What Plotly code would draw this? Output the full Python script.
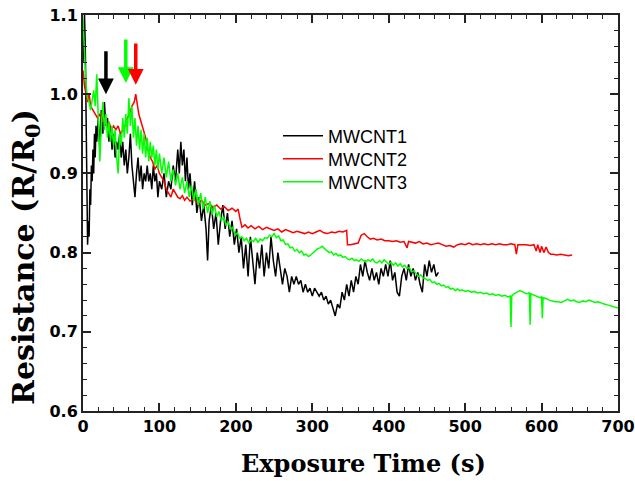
import plotly.graph_objects as go

# ---------------- data ----------------
t1 = [0, 1, 2, 3, 4, 5, 6, 7, 8, 9, 10, 11, 12, 13, 14, 15, 16, 17, 18, 20, 22, 24, 26, 28, 30, 32, 34, 36, 38, 40,
      42, 44, 46, 48, 50, 52, 54, 56, 58, 60, 62, 64, 66, 68, 70, 72, 74, 76, 78, 80, 82, 84, 86, 88, 90, 92, 94, 96, 98,
      100, 103, 106, 109, 112, 115, 118, 121, 124, 126, 128, 130, 132, 134, 136, 138, 140, 143, 146, 149, 152, 155, 158,
      161, 163, 165, 168, 171, 174, 177, 180, 183, 186, 189, 192, 195, 198, 201, 204, 207, 210, 213, 216, 219, 222, 225,
      228, 231, 234, 237, 240, 243, 246, 249, 252, 255, 258, 261, 264, 267, 270, 273, 276, 279, 282, 285, 288, 291, 294,
      297, 300, 303, 306, 309, 312, 315, 318, 321, 324, 327, 330, 333, 336, 339, 342, 345, 348, 351, 354, 357, 360, 363,
      366, 369, 372, 375, 378, 381, 384, 387, 390, 393, 396, 399, 402, 405, 408, 411, 414, 417, 420, 423, 426, 429, 432,
      435, 438, 441, 444, 447, 450, 453, 456, 459, 462, 465]
r1 = [1.04, 1.09, 1.10, 1.06, 0.95, 0.83, 0.81, 0.84, 0.82, 0.88, 0.86, 0.91, 0.89, 0.93, 0.90, 0.95, 0.92, 0.96, 0.94,
      0.97, 0.93, 0.98, 0.95, 0.99, 0.96, 0.97, 0.94, 0.96, 0.93, 0.95, 0.92, 0.94, 0.93, 0.95, 0.92, 0.94, 0.91, 0.93,
      0.90, 0.92, 0.95, 0.91, 0.89, 0.87, 0.90, 0.92, 0.89, 0.91, 0.88, 0.90, 0.89, 0.91, 0.89, 0.90, 0.88, 0.91, 0.89,
      0.90, 0.87, 0.89, 0.88, 0.90, 0.87, 0.89, 0.88, 0.91, 0.89, 0.93, 0.90, 0.94, 0.91, 0.93, 0.89, 0.92, 0.88, 0.90,
      0.86, 0.89, 0.85, 0.87, 0.84, 0.86, 0.83, 0.79, 0.84, 0.86, 0.83, 0.85, 0.81, 0.84, 0.86, 0.83, 0.85, 0.82, 0.84,
      0.81, 0.83, 0.80, 0.82, 0.78, 0.81, 0.77, 0.82, 0.79, 0.76, 0.80, 0.78, 0.81, 0.77, 0.80, 0.78, 0.82, 0.79, 0.77,
      0.80, 0.78, 0.76, 0.78, 0.77, 0.75, 0.77, 0.76, 0.77, 0.76, 0.765, 0.75, 0.76, 0.75, 0.755, 0.745, 0.755, 0.75,
      0.745, 0.75, 0.74, 0.745, 0.735, 0.74, 0.73, 0.72, 0.735, 0.73, 0.75, 0.74, 0.76, 0.745, 0.765, 0.75, 0.77, 0.76,
      0.785, 0.77, 0.79, 0.775, 0.765, 0.78, 0.765, 0.775, 0.76, 0.78, 0.77, 0.785, 0.77, 0.79, 0.765, 0.775, 0.75,
      0.745, 0.77, 0.78, 0.765, 0.785, 0.77, 0.78, 0.765, 0.775, 0.76, 0.75, 0.785, 0.77, 0.79, 0.775, 0.785, 0.77,
      0.775]

t2 = [0, 2, 4, 6, 8, 10, 13, 16, 19, 22, 25, 28, 31, 34, 37, 40, 43, 46, 49, 52, 55, 58, 61, 64, 67, 69, 71, 73, 76,
      79, 82, 85, 88, 91, 94, 97, 100, 103, 106, 109, 112, 115, 118, 121, 124, 127, 130, 133, 136, 140, 145, 150, 155,
      160, 165, 170, 175, 180, 185, 190, 195, 200, 203, 206, 208, 212, 216, 220, 225, 230, 235, 240, 245, 250, 255, 260,
      265, 270, 275, 280, 285, 290, 295, 300, 305, 310, 315, 320, 325, 330, 335, 340, 345, 346, 350, 355, 360, 364, 368,
      372, 376, 380, 385, 390, 395, 400, 405, 410, 415, 420, 424, 426, 430, 435, 440, 445, 450, 455, 460, 465, 470, 475,
      480, 485, 490, 495, 500, 505, 510, 515, 520, 525, 530, 535, 540, 545, 550, 555, 560, 565, 567, 569, 575, 580, 585,
      590, 593, 595, 598, 600, 603, 606, 609, 612, 615, 620, 625, 630, 635, 640]
r2 = [1.03, 1.01, 1.00, 0.99, 1.00, 0.985, 0.98, 0.975, 0.97, 0.975, 0.965, 0.97, 0.96, 0.965, 0.955, 0.96, 0.955,
      0.96, 0.95, 0.955, 0.96, 0.97, 0.975, 0.985, 0.99, 1.0, 0.99, 0.975, 0.965, 0.955, 0.945, 0.93, 0.92, 0.915, 0.905,
      0.91, 0.90, 0.895, 0.89, 0.88, 0.875, 0.87, 0.88, 0.875, 0.87, 0.868, 0.872, 0.866, 0.87, 0.865, 0.868, 0.862,
      0.866, 0.86, 0.862, 0.857, 0.86, 0.855, 0.858, 0.853, 0.856, 0.852, 0.855, 0.84, 0.832, 0.835, 0.831, 0.834, 0.83,
      0.833, 0.829, 0.832, 0.83, 0.828, 0.83, 0.826, 0.829, 0.827, 0.825, 0.827, 0.825, 0.824, 0.826, 0.824, 0.826,
      0.828, 0.825, 0.824, 0.826, 0.825, 0.827, 0.826, 0.828, 0.81, 0.81, 0.811, 0.812, 0.822, 0.824, 0.82, 0.817,
      0.818, 0.816, 0.817, 0.815, 0.815, 0.814, 0.815, 0.813, 0.814, 0.806, 0.814, 0.813, 0.812, 0.814, 0.811, 0.812,
      0.81, 0.811, 0.812, 0.81, 0.808, 0.809, 0.807, 0.81, 0.811, 0.81, 0.812, 0.81, 0.811, 0.81, 0.811, 0.81, 0.811,
      0.81, 0.811, 0.81, 0.81, 0.811, 0.81, 0.798, 0.81, 0.81, 0.81, 0.809, 0.81, 0.802, 0.81, 0.80, 0.808, 0.80, 0.807,
      0.80, 0.798, 0.798, 0.797, 0.798, 0.797, 0.796, 0.797]

t3 = [0, 1, 2, 3, 4, 6, 8, 10, 12, 14, 16, 18, 20, 22, 24, 26, 28, 30, 32, 34, 36, 38, 40, 42, 44, 46, 48, 50, 52, 54,
      56, 58, 60, 62, 64, 66, 68, 70, 72, 74, 76, 78, 80, 82, 84, 86, 88, 90, 92, 94, 96, 98, 100, 103, 106, 109, 112,
      115, 118, 121, 124, 127, 130, 133, 136, 139, 142, 145, 148, 151, 154, 157, 160, 163, 166, 169, 172, 175, 178, 181,
      184, 187, 190, 193, 196, 199, 202, 205, 208, 211, 214, 217, 220, 223, 226, 229, 232, 235, 238, 241, 244, 247, 250,
      253, 256, 259, 262, 265, 268, 271, 274, 277, 280, 283, 286, 289, 292, 295, 298, 301, 304, 307, 310, 313, 316, 319,
      322, 325, 328, 331, 334, 337, 340, 343, 346, 349, 352, 355, 358, 361, 364, 367, 370, 373, 376, 379, 382, 385, 388,
      391, 394, 397, 400, 403, 406, 409, 412, 415, 418, 421, 424, 427, 430, 433, 436, 439, 442, 445, 448, 451, 454, 457,
      460, 463, 466, 469, 472, 475, 478, 481, 484, 487, 490, 493, 496, 500, 504, 508, 512, 516, 520, 524, 528, 532, 536,
      540, 544, 548, 552, 556, 559, 560, 561, 564, 568, 572, 576, 580, 584, 585, 586, 590, 594, 598, 600, 601, 602, 606,
      610, 614, 618, 622, 626, 630, 634, 638, 642, 646, 650, 654, 658, 662, 666, 670, 674, 678, 682, 686, 690, 694, 698,
      700]
r3 = [1.095, 1.07, 1.04, 1.02, 1.01, 0.995, 0.99, 0.98, 0.995, 1.005, 0.985, 1.025, 0.97, 0.915, 0.96, 0.99, 0.955,
      0.975, 0.945, 0.965, 0.94, 0.96, 0.935, 0.955, 0.92, 0.90, 0.95, 0.935, 0.97, 0.945, 0.975, 0.95, 0.995, 0.96,
      0.985, 0.945, 0.97, 0.935, 0.96, 0.93, 0.955, 0.925, 0.95, 0.92, 0.945, 0.915, 0.94, 0.92, 0.935, 0.91, 0.93,
      0.905, 0.925, 0.90, 0.92, 0.895, 0.915, 0.89, 0.905, 0.885, 0.90, 0.88, 0.895, 0.875, 0.89, 0.87, 0.885, 0.865,
      0.88, 0.86, 0.875, 0.855, 0.87, 0.85, 0.865, 0.848, 0.86, 0.845, 0.852, 0.84, 0.845, 0.835, 0.838, 0.83, 0.832,
      0.822, 0.825, 0.818, 0.82, 0.815, 0.818, 0.812, 0.816, 0.814, 0.818, 0.813, 0.817, 0.815, 0.819, 0.818, 0.822,
      0.82, 0.824, 0.819, 0.821, 0.815, 0.816, 0.81, 0.811, 0.806, 0.807, 0.802, 0.804, 0.80, 0.802, 0.797, 0.798,
      0.795, 0.797, 0.80, 0.803, 0.805, 0.806, 0.808, 0.805, 0.803, 0.80, 0.801, 0.797, 0.799, 0.796, 0.797, 0.794,
      0.795, 0.792, 0.791, 0.793, 0.79, 0.791, 0.789, 0.792, 0.79, 0.788, 0.791, 0.789, 0.792, 0.788, 0.787, 0.79,
      0.787, 0.791, 0.788, 0.785, 0.788, 0.784, 0.787, 0.783, 0.786, 0.782, 0.784, 0.78, 0.781, 0.776, 0.777, 0.773,
      0.77, 0.772, 0.768, 0.767, 0.765, 0.766, 0.762, 0.763, 0.76, 0.761, 0.758, 0.759, 0.756, 0.757, 0.754, 0.755,
      0.752, 0.754, 0.752, 0.753, 0.751, 0.752, 0.75, 0.751, 0.749, 0.75, 0.748, 0.749, 0.747, 0.748, 0.746, 0.747,
      0.745, 0.746, 0.744, 0.745, 0.706, 0.745, 0.748, 0.75, 0.752, 0.75, 0.748, 0.749, 0.709, 0.748, 0.746, 0.745,
      0.743, 0.744, 0.717, 0.743, 0.742, 0.74, 0.739, 0.738, 0.738, 0.737, 0.739, 0.741, 0.739, 0.74, 0.738, 0.737,
      0.739, 0.738, 0.74, 0.738, 0.737, 0.738, 0.736, 0.735, 0.734, 0.733, 0.732, 0.731, 0.73]

series_names = ["MWCNT1", "MWCNT2", "MWCNT3"]
series_colors = ["#000000", "#FF0000", "#00FF00"]

# arrows: (time, tip value, tail value)
arrow_t = [30, 56, 69]
arrow_tip = [1.0, 1.014, 1.012]
arrow_tail = [1.056, 1.071, 1.066]
arrow_col = ["#000000", "#00FF00", "#FF0000"]

x_ticks = [0, 100, 200, 300, 400, 500, 600, 700]
y_ticks = [0.6, 0.7, 0.8, 0.9, 1.0, 1.1]

# ---------------- figure ----------------
W, H = 635, 481
L, R, T, B = 83, 17, 15, 70
PW, PH = W - L - R, H - T - B

fig = go.Figure()
legend_ids = ["legend", "legend2", "legend3"]
for t, r, n, c, lg in zip([t1, t2, t3], [r1, r2, r3], series_names, series_colors, legend_ids):
    fig.add_trace(go.Scatter(x=t, y=r, mode="lines", name=n, legend=lg,
                             line=dict(color=c, width=1.5)))

for at, tip, tail, col in zip(arrow_t, arrow_tip, arrow_tail, arrow_col):
    fig.add_annotation(x=at, y=tip, ax=at, ay=tail, xref="x", yref="y",
                       axref="x", ayref="y", text="", showarrow=True,
                       arrowhead=2, arrowsize=0.9, arrowwidth=3.5,
                       arrowcolor=col, standoff=0)

tickfont = dict(family="DejaVu Sans", size=16, color="black", weight="bold")
axis_common = dict(showline=True, linecolor="#222", linewidth=2, mirror="ticks",
                   ticks="inside", ticklen=8, tickwidth=1.5, tickcolor="#222",
                   showgrid=False, zeroline=False, tickfont=tickfont, automargin=False)

fig.update_xaxes(range=[0, 700], tickvals=x_ticks,
                 minor=dict(dtick=20, ticks="inside", ticklen=4, tickwidth=1.2, tickcolor="#222"),
                 **axis_common)
fig.update_yaxes(range=[0.6, 1.1], tickvals=y_ticks, tickformat=".1f",
                 minor=dict(dtick=0.02, ticks="inside", ticklen=4, tickwidth=1.2, tickcolor="#222"),
                 **axis_common)

fig.add_annotation(text="Exposure Time (s)", xref="paper", yref="paper",
                   x=(363 - L) / PW, y=-(463 - (T + PH)) / PH, showarrow=False,
                   font=dict(family="DejaVu Serif", size=24, color="black", weight="bold"),
                   xanchor="center", yanchor="middle")
fig.add_annotation(text="Resistance (R/R<sub>0</sub>)", xref="paper", yref="paper",
                   x=-(L - 25) / PW, y=(T + PH - 257) / PH, showarrow=False,
                   font=dict(family="DejaVu Serif", size=30, color="black", weight="bold"),
                   textangle=-90, xanchor="center", yanchor="middle")

legend_rows = [136, 159, 182]
leg_font = dict(family="Liberation Sans, Arial", size=18, color="black")
leg_layout = {}
for lg, row in zip(legend_ids, legend_rows):
    leg_layout[lg] = dict(x=(278 - L) / PW, y=(T + PH - row) / PH, xanchor="left", yanchor="middle",
                          bgcolor="rgba(0,0,0,0)", borderwidth=0, font=leg_font, itemwidth=40)

fig.update_layout(
    width=W, height=H,
    margin=dict(l=L, r=R, t=T, b=B, autoexpand=False),
    paper_bgcolor="white", plot_bgcolor="white",
    showlegend=True,
    **leg_layout,
)

fig.write_html("out.html", config={"displayModeBar": False},
               post_script="document.body.style.margin='0';document.body.style.padding='0';"
                           "document.body.style.overflow='hidden';")
